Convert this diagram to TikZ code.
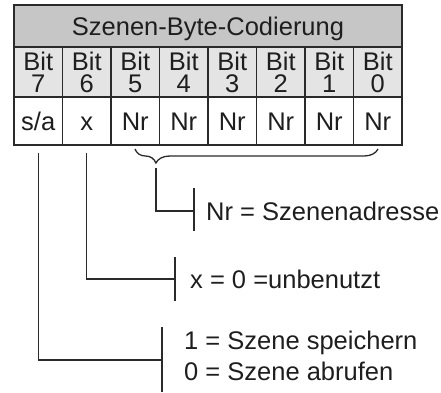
\documentclass[tikz,border=0pt]{standalone}
\usepackage{fontspec}
\setmainfont{Liberation Sans}
\usetikzlibrary{decorations.pathreplacing,calc}
\definecolor{linec}{HTML}{2A2A2A}
\definecolor{txt}{HTML}{1E1E1E}
\definecolor{hdr}{HTML}{C6C6C6}
\definecolor{bitc}{HTML}{E4E4E4}
\begin{document}
\begin{tikzpicture}[x=1pt,y=1pt,
  cell/.style={draw=linec, line width=1.2pt, inner sep=0pt, minimum width=48.5pt,
    text=txt, font=\fontsize{25.5}{23}\selectfont},
  lab/.style={anchor=west, inner sep=0pt, text height=18.3pt, text depth=0pt,
    text=txt, font=\fontsize{25.5}{23}\selectfont},
  conn/.style={draw=linec, line width=1.3pt},
  bar/.style={draw=linec, line width=1.9pt}
]
\useasboundingbox (0,0) rectangle (441,-392);
% header
\node[cell, fill=hdr, minimum width=388pt, minimum height=42pt,
  text height=18.3pt, text depth=0pt] (head) at (208,-26) {Szenen-Byte-Codierung};
% bit row and value row
\foreach \i/\b/\v in {0/7/s\slash a,1/6/x,2/5/Nr,3/4/Nr,4/3/Nr,5/2/Nr,6/1/Nr,7/0/Nr}{
  \node[cell, fill=bitc, minimum height=50pt, align=center] (b\b) at ({38.25+48.5*\i},-72) {Bit\\[-1pt]\b};
  \node[cell, fill=white, minimum height=48pt, text height=18.3pt, text depth=0pt] (v\b) at ({38.25+48.5*\i},-121) {\v};
}
% brace
\coordinate (brL) at (135,-149);
\coordinate (brR) at (378,-149);
\draw[conn, decorate, decoration={brace, mirror, amplitude=14pt, aspect=0.086}] (brL) -- (brR);
% Nr connector
\coordinate (nrtop) at (156,-168);
\coordinate (nrbar) at (194,-211);
\coordinate (nrbarT) at (194,-188);
\coordinate (nrbarB) at (194,-231);
\draw[conn] (nrtop) |- (nrbar);
\draw[bar] (nrbarT) -- (nrbarB);
\node[lab] (nrlab) at (206,-211) {Nr = Szenenadresse};
% x connector
\coordinate (xbar) at (175,-279);
\coordinate (xbarT) at (175,-257);
\coordinate (xbarB) at (175,-301);
\draw[conn] ($(v6.south)+(0,-7)$) |- (xbar);
\draw[bar] (xbarT) -- (xbarB);
\node[lab] (xlab) at (190,-279) {x = 0 =unbenutzt};
% s/a connector
\coordinate (sbar) at (162,-360);
\coordinate (sbarT) at (162,-327);
\coordinate (sbarB) at (162,-392);
\draw[conn] ($(v7.south)+(0,-7)$) |- (sbar);
\draw[bar] (sbarT) -- (sbarB);
\node[lab] (slab1) at (184,-340) {1 = Szene speichern};
\node[lab] (slab0) at (184,-371) {0 = Szene abrufen};
\end{tikzpicture}
\end{document}
